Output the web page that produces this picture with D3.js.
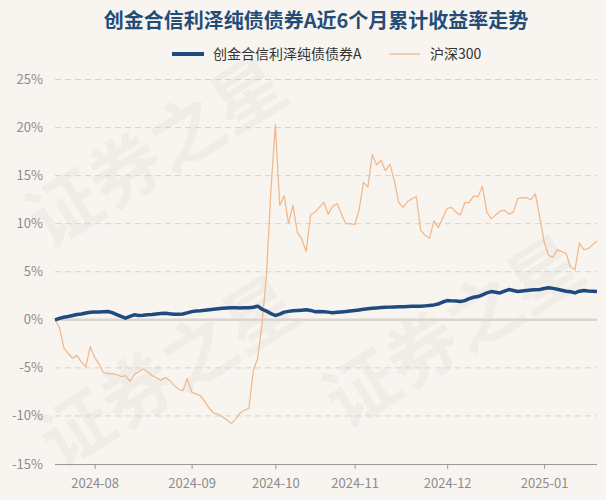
<!DOCTYPE html>
<html><head><meta charset="utf-8">
<script src="https://cdn.jsdelivr.net/npm/d3@7/dist/d3.min.js"></script>
<style>
html,body{margin:0;padding:0;background:#f8f5f1;}
svg{display:block;font-family:"Noto Sans CJK SC","Noto Sans",sans-serif;}
</style></head>
<body><svg id="c" width="606" height="500"></svg>
<script>
const title = "创金合信利泽纯债债券A近6个月累计收益率走势";
const seriesNames = ["创金合信利泽纯债债券A", "沪深300"];
const tradingDays = [
  ["2024-07", [19,22,23,24,25,26,29,30,31]],
  ["2024-08", [1,2,5,6,7,8,9,12,13,14,15,16,19,20,21,22,23,26,27,28,29,30]],
  ["2024-09", [2,3,4,5,6,9,10,11,12,13,18,19,20,23,24,25,26,27,30]],
  ["2024-10", [8,9,10,11,14,15,16,17,18,21,22,23,24,25,28,29,30,31]],
  ["2024-11", [1,4,5,6,7,8,11,12,13,14,15,18,19,20,21,22,25,26,27,28,29]],
  ["2024-12", [2,3,4,5,6,9,10,11,12,13,16,17,18,19,20,23,24,25,26,27,30,31]],
  ["2025-01", [2,3,6,7,8,9,10,13,14,15,16,17,20]]
];
const xTickLabels = ["2024-08","2024-09","2024-10","2024-11","2024-12","2025-01"];
const yTicks = [-15,-10,-5,0,5,10,15,20,25];
const fundValues = [
 0.0,0.15,0.27,0.35,0.45,0.55,0.6,0.7,0.78,0.8,
 0.82,0.85,0.86,0.75,0.55,0.35,0.17,0.35,0.52,0.45,
 0.47,0.52,0.55,0.6,0.65,0.69,0.62,0.57,0.57,0.6,
 0.72,0.85,0.92,0.95,1.0,1.05,1.1,1.15,1.2,1.22,
 1.25,1.25,1.24,1.26,1.25,1.3,1.42,1.1,0.9,0.65,
 0.45,0.6,0.8,0.88,0.95,0.97,1.0,1.04,0.98,0.85,
 0.86,0.85,0.8,0.74,0.78,0.82,0.86,0.92,0.97,1.03,
 1.1,1.15,1.2,1.24,1.27,1.3,1.32,1.33,1.35,1.37,
 1.38,1.4,1.41,1.41,1.45,1.5,1.55,1.65,1.85,2.0,
 1.97,1.95,1.9,2.0,2.2,2.35,2.42,2.6,2.8,2.94,
 2.87,2.8,2.98,3.15,3.05,2.95,3.0,3.05,3.1,3.12,
 3.15,3.25,3.33,3.27,3.18,3.08,2.98,2.92,2.8,2.98,
 3.05,3.0,2.97,2.94
];
const hs300Values = [
 0.0,-0.8,-2.9,-3.5,-4.0,-3.7,-4.4,-4.9,-2.8,-3.9,
 -4.6,-5.5,-5.6,-5.6,-5.7,-5.9,-5.8,-6.4,-5.7,-5.4,
 -5.1,-5.4,-5.8,-6.0,-6.3,-6.0,-6.3,-6.8,-7.2,-7.4,
 -6.1,-7.5,-7.7,-7.9,-8.5,-9.2,-9.7,-9.8,-10.1,-10.4,
 -10.8,-10.3,-9.7,-9.4,-9.2,-5.3,-4.0,-0.3,4.7,13.5,
 20.3,11.9,12.9,10.0,11.9,9.1,8.4,7.1,10.9,11.2,
 11.7,12.2,11.0,11.8,12.1,11.0,10.0,10.0,9.9,11.4,
 14.3,13.8,17.2,16.1,16.6,15.5,16.2,14.5,12.2,11.7,
 12.3,12.6,12.8,9.3,8.8,8.5,10.3,9.6,10.6,11.6,
 11.7,11.2,10.9,12.2,12.2,12.9,12.8,13.9,11.2,10.5,
 10.9,11.3,11.4,11.0,11.2,12.6,12.7,12.7,12.5,13.1,
 10.7,8.1,6.7,6.5,7.3,7.1,6.9,5.5,5.2,8.0,
 7.3,7.4,7.8,8.2
];

const dates = [];
tradingDays.forEach(([m, days]) => days.forEach(d => dates.push(m + "-" + String(d).padStart(2, "0"))));
const monthStarts = xTickLabels.map(lbl => dates.find(d => d.startsWith(lbl)));

const svg = d3.select("#c");
const plotL = 55, plotR = 597, plotT = 79.5, plotB = 464;
const colors = ["#1f4a7e", "#f2b98c"];

// watermark
const wm = svg.append("g").attr("fill", "#000").attr("fill-opacity", 0.03)
  .attr("font-size", 72).attr("font-weight", "bold");
[[48, 250], [60, 470], [345, 430]].forEach(([px, py]) => {
  wm.append("text").attr("transform", `translate(${px},${py}) rotate(-32)`).text("证券之星");
});

const x = d3.scalePoint().domain(dates).range([plotL, plotR]);
const y = d3.scaleLinear().domain([-15, 25]).range([plotB, plotT]);

// grid
svg.append("g").selectAll("line").data(yTicks.filter(t => t !== 0 && t !== -15)).join("line")
  .attr("x1", plotL).attr("x2", plotR).attr("y1", d => y(d)).attr("y2", d => y(d))
  .attr("stroke", "#d6d3cf").attr("stroke-width", 1).attr("stroke-dasharray", "6,4");
svg.append("line").attr("x1", plotL).attr("x2", plotR).attr("y1", y(0)).attr("y2", y(0))
  .attr("stroke", "#d9d6d2").attr("stroke-width", 2.5);

// y labels
svg.append("g").selectAll("text").data(yTicks).join("text")
  .attr("x", 43).attr("y", d => y(d)).attr("dy", "0.35em").attr("text-anchor", "end")
  .attr("font-size", 13).attr("fill", "#8c8c8c").text(d => d + "%");

// x axis
const xAxis = d3.axisBottom(x).tickValues(monthStarts).tickFormat((d, i) => xTickLabels[i])
  .tickSize(5).tickSizeOuter(0);
const gx = svg.append("g").attr("transform", `translate(0,${plotB})`).call(xAxis);
gx.select(".domain").attr("stroke", "#999").attr("d", `M${plotL},0.5H${plotR}`);
gx.selectAll(".tick line").attr("stroke", "#999");
gx.selectAll(".tick text").attr("font-size", 13).attr("fill", "#8c8c8c").attr("dy", "1.25em")
  .attr("font-family", '"Noto Sans CJK SC","Noto Sans",sans-serif');

// lines
const line = d3.line().x((d, i) => x(dates[i])).y(d => y(d));
svg.append("path").datum(hs300Values).attr("d", line).attr("fill", "none")
  .attr("stroke", colors[1]).attr("stroke-width", 1.3).attr("stroke-linejoin", "round");
svg.append("path").datum(fundValues).attr("d", line).attr("fill", "none")
  .attr("stroke", colors[0]).attr("stroke-width", 3.5).attr("stroke-linejoin", "round");

// title
svg.append("text").attr("x", 316).attr("y", 28).attr("text-anchor", "middle")
  .attr("font-size", 20).attr("font-weight", "bold").attr("fill", "#234c78").text(title);

// legend
const lg = svg.append("g");
const legendItems = [
  {name: seriesNames[0], color: colors[0], w: 4, x1: 172, x2: 204, tx: 213},
  {name: seriesNames[1], color: colors[1], w: 1.3, x1: 389, x2: 420, tx: 430}
];
legendItems.forEach(it => {
  lg.append("line").attr("x1", it.x1).attr("x2", it.x2).attr("y1", 54).attr("y2", 54)
    .attr("stroke", it.color).attr("stroke-width", it.w);
  lg.append("text").attr("x", it.tx).attr("y", 54).attr("dy", "0.35em")
    .attr("font-size", 14).attr("fill", "#333").text(it.name);
});
</script></body></html>
